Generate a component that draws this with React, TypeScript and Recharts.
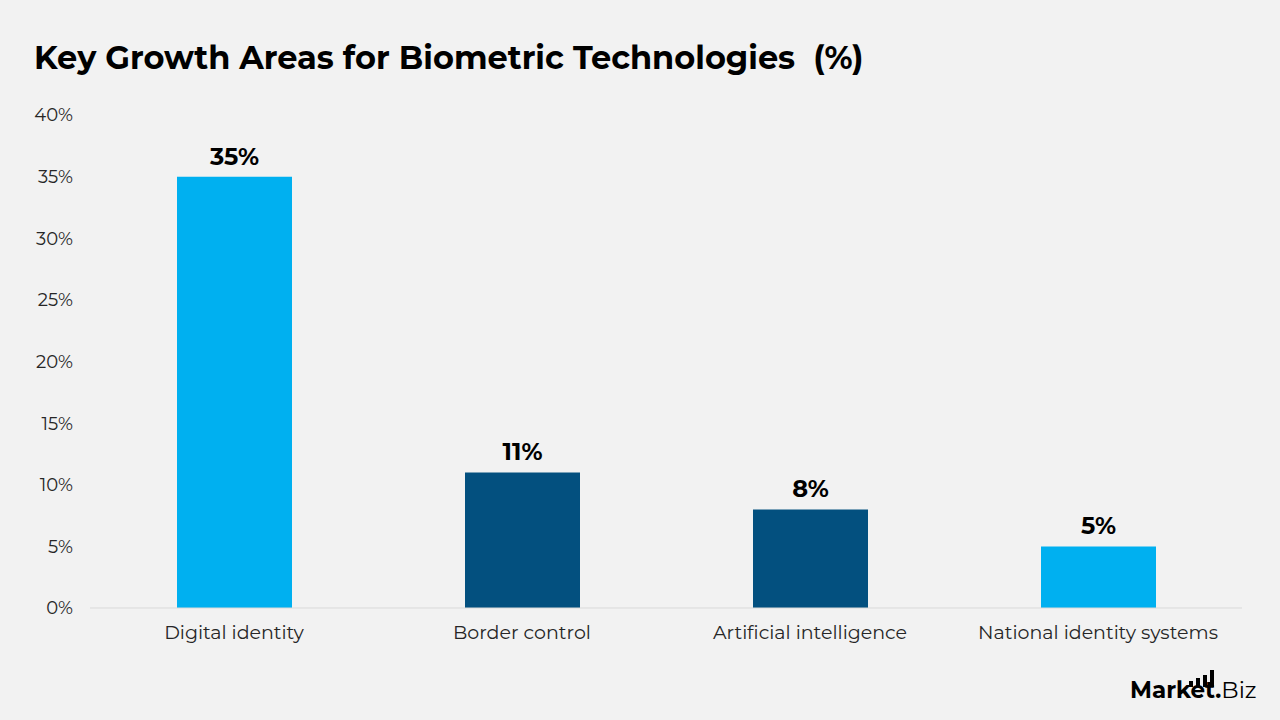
import React from "react";
import { BarChart, Bar, XAxis, YAxis, CartesianGrid, LabelList, Cell } from "recharts";

const categories = ["Digital identity", "Border control", "Artificial intelligence", "National identity systems"];
const shares = [35, 11, 8, 5];
const barColors = ["#00B0F0", "#03507F", "#03507F", "#00B0F0"];
const yTicks = [0, 5, 10, 15, 20, 25, 30, 35, 40];

const data = categories.map((name, i) => ({ name, value: shares[i] }));

const font = "Montserrat, 'Open Sans', sans-serif";

export default function App() {
  return (
    <div
      style={{
        position: "absolute",
        left: 0,
        top: 0,
        width: 1280,
        height: 720,
        background: "#F2F2F2",
        fontFamily: font,
        overflow: "hidden",
      }}
    >
      <div
        style={{
          position: "absolute",
          left: 34,
          top: 38,
          fontSize: 32,
          fontWeight: 700,
          color: "#000",
          whiteSpace: "pre",
        }}
      >
        Key Growth Areas for Biometric Technologies  (%)
      </div>

      <BarChart
        width={1280}
        height={720}
        data={data}
        margin={{ top: 115, right: 38, bottom: 82, left: 30 }}
        style={{ position: "absolute", left: 0, top: 0 }}
      >
        <CartesianGrid vertical={false} horizontal={false} />
        <XAxis
          dataKey="name"
          height={30}
          tickLine={false}
          axisLine={{ stroke: "#D9D9D9" }}
          tick={{ fill: "#262626", fontSize: 19, fontFamily: font }}
          tickMargin={12}
          interval={0}
        />
        <YAxis
          width={60}
          domain={[0, 40]}
          ticks={yTicks}
          tickFormatter={(v: number) => `${v}%`}
          axisLine={false}
          tickLine={false}
          tickMargin={11}
          tick={{ fill: "#262626", fontSize: 18, fontFamily: font }}
        />
        <Bar dataKey="value" barSize={115} isAnimationActive={false}>
          {data.map((d, i) => (
            <Cell key={d.name} fill={barColors[i]} />
          ))}
          <LabelList
            dataKey="value"
            position="top"
            offset={12}
            formatter={(v: number) => `${v}%`}
            style={{ fill: "#000", fontSize: 24, fontWeight: 700, fontFamily: font }}
          />
        </Bar>
      </BarChart>

      <div
        style={{
          position: "absolute",
          left: 1130,
          top: 679,
          fontSize: 23,
          color: "#000",
          lineHeight: "23px",
        }}
      >
        <span style={{ fontWeight: 700 }}>Market.</span>
        <span style={{ fontWeight: 400 }}>Biz</span>
      </div>
      <div style={{ position: "absolute", left: 1189, top: 670, display: "flex", alignItems: "flex-end", gap: 3 }}>
        {[6, 9, 12, 17].map((h, i) => (
          <div key={i} style={{ width: 4, height: h, background: "#000" }} />
        ))}
      </div>
    </div>
  );
}
